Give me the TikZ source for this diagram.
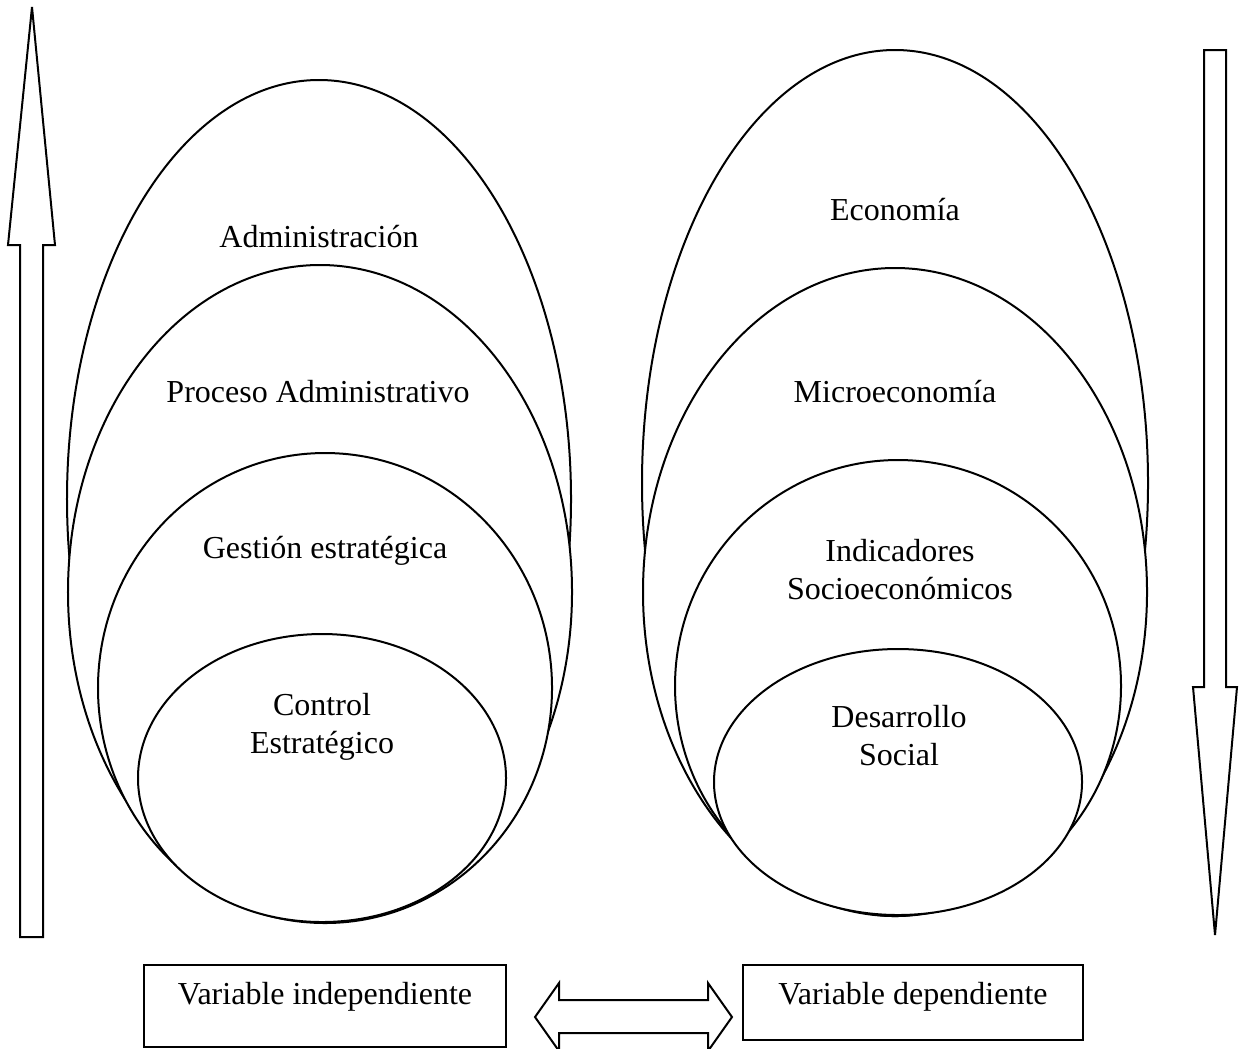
\documentclass[tikz,border=0pt]{standalone}
\usepackage{fontspec}
\setmainfont{Liberation Serif}
\usetikzlibrary{shapes.geometric}

\begin{document}
\begin{tikzpicture}[
        x=0.4pt, y=-0.4pt,
        every node/.style={font=\fontsize{12.8}{15.2}\selectfont},
        oval/.style={ellipse, draw, fill=white, line width=0.8pt, inner sep=0pt},
        tag/.style={align=center},
        varbox/.style={rectangle, draw, line width=0.8pt, inner sep=0pt, text height=15.6pt},
        bigarrow/.style={draw, line width=0.8pt, line join=miter}
    ]
        \useasboundingbox (0,0) rectangle (1243,1048);

        % Ellipses (independiente)
        \node[oval, minimum width=201.6pt, minimum height=335.2pt] (admin) at (319,499) {};
        \node[oval, minimum width=201.6pt, minimum height=261.6pt] (proceso) at (320,592) {};
        \node[oval, minimum width=181.6pt, minimum height=188pt] (gestion) at (325,688) {};
        \node[oval, minimum width=147.2pt, minimum height=115.2pt] (control) at (322,778) {};

        % Ellipses (dependiente)
        \node[oval, minimum width=202.4pt, minimum height=346.4pt] (economia) at (895,483) {};
        \node[oval, minimum width=201.6pt, minimum height=259.2pt] (micro) at (895,592) {};
        \node[oval, minimum width=178.4pt, minimum height=180.8pt] (indicadores) at (898,686) {};
        \node[oval, minimum width=147.2pt, minimum height=106.4pt] (desarrollo) at (898,782) {};

        % Labels
        \node[tag] (adminlbl) at (319,237) {Administración};
        \node[tag] (procesolbl) at (318,392) {Proceso Administrativo};
        \node[tag] (gestionlbl) at (325,551) {Gestión estratégica};
        \node[tag] (controllbl) at (322,727) {Control\\Estratégico};
        \node[tag] (economialbl) at (895,210) {Economía};
        \node[tag] (microlbl) at (895,392) {Microeconomía};
        \node[tag] (indicadoreslbl) at (900,570) {Indicadores\\Socioeconómicos};
        \node[tag] (desarrollolbl) at (899,736) {Desarrollo\\Social};

        % Variables
        \node[varbox, anchor=north, minimum width=144.8pt, text depth=17.2pt] (indep) at (325,964) {Variable independiente};
        \node[varbox, anchor=north, minimum width=136pt, text depth=14.4pt] (dep) at (913,964) {Variable dependiente};

        % Arrows
        \draw[bigarrow] (32,7) -- (55,245) -- (43,245) -- (43,937) -- (20,937) -- (20,245) -- (8,245) -- cycle;
        \draw[bigarrow] (1204,50) -- (1226,50) -- (1226,687) -- (1237,687) -- (1215,935) -- (1193,687) -- (1204,687) -- cycle;
        \draw[bigarrow] (535,1017) -- (559,983) -- (559,1000) -- (708,1000) -- (708,983) -- (732,1017)
            -- (708,1051) -- (708,1033) -- (559,1033) -- (559,1051) -- cycle;

    \end{tikzpicture}
\end{document}
